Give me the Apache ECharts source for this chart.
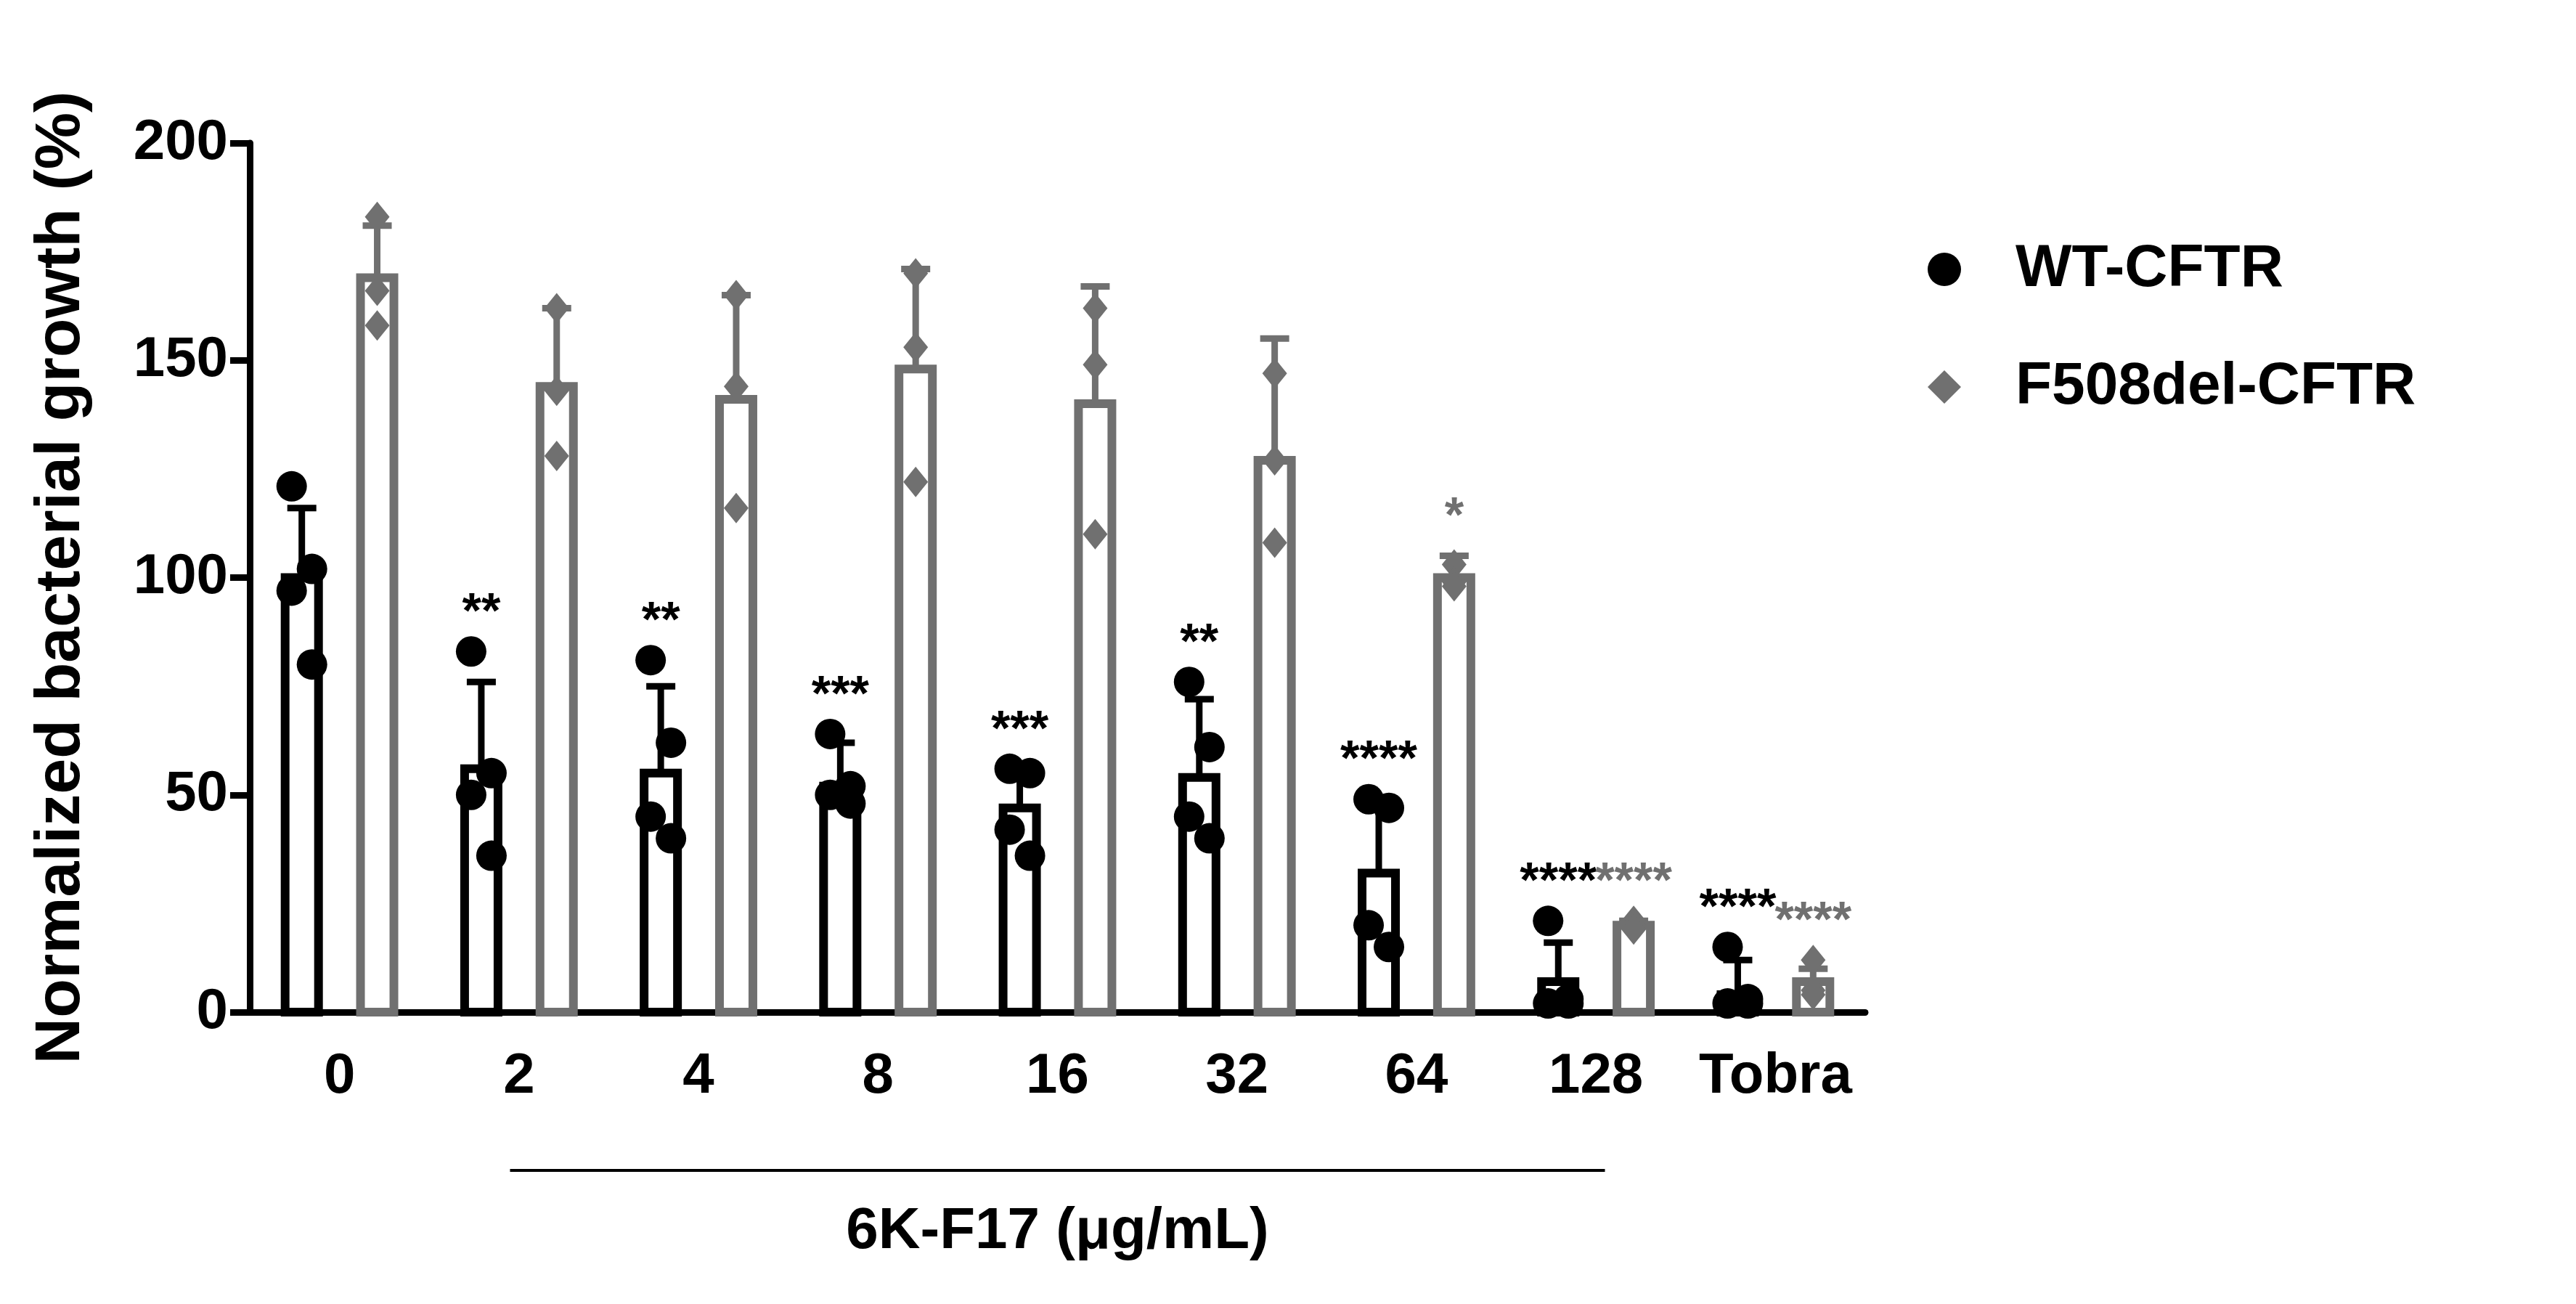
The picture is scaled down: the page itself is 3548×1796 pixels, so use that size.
<!DOCTYPE html>
<html>
<head>
<meta charset="utf-8">
<script src="https://cdn.jsdelivr.net/npm/echarts@6/dist/echarts.min.js"></script>
<style>html,body{margin:0;background:#fff}#chart{width:3548px;height:1796px}</style>
</head>
<body>
<div id="chart"></div>
<script>
var categories = ['0', '2', '4', '8', '16', '32', '64', '128', 'Tobra'];
var wtMean = [100, 56, 55, 52, 47, 54, 32, 7, 4];
var wtSD = [16, 20, 20, 10, 8, 18, 15, 9, 8];
var wtPoints = [[121, 102, 97, 80], [83, 55, 50, 36], [81, 62, 45, 40], [64, 52, 50, 48],
    [56, 55, 42, 36], [76, 61, 45, 40], [49, 47, 20, 15], [21, 3, 2, 2], [15, 3, 2, 2]];
var fMean = [169, 144, 141, 148, 140, 127, 100, 20, 7];
var fSD = [12, 18, 24, 23, 27, 28, 5, 1, 3];
var fPoints = [[183, 158, 166], [162, 143, 128], [165, 144, 116], [170, 153, 122],
    [162, 149, 110], [147, 108, 127], [103, 99, 98], [21, 20, 19], [12, 5, 4]];
var wtStars = ['', '**', '**', '***', '***', '**', '****', '****', '****'];
var fStars = ['', '', '', '', '', '', '*', '****', '****'];

var BLACK = '#000000';
var GRAY = '#707070';
var font = 'Liberation Sans, Arial, sans-serif';

function groupSeries(name, mean, sd, points, stars, color, side, symbol) {
    var data = mean.map(function (m, i) { return [i, m, sd[i], points[i], stars[i]]; });
    return {
        name: name,
        type: 'custom',
        clip: false,
        itemStyle: { color: color },
        data: data,
        renderItem: function (params, api) {
            var i = api.value(0);
            var d = data[i];
            var band = api.size([1, 0])[0];
            var cx = api.coord([i, 0])[0] + side * band * 0.21;
            var y0 = api.coord([i, 0])[1];
            var yM = api.coord([i, d[1]])[1];
            var yT = api.coord([i, d[1] + d[2]])[1];
            var w = 46;
            var kids = [
                { type: 'line', shape: { x1: cx, y1: yM, x2: cx, y2: yT }, style: { stroke: color, lineWidth: 9 } },
                { type: 'line', shape: { x1: cx - 20, y1: yT, x2: cx + 20, y2: yT }, style: { stroke: color, lineWidth: 9 } },
                { type: 'rect', shape: { x: cx - w / 2, y: yM, width: w, height: y0 - yM }, style: { fill: 'none', stroke: color, lineWidth: 12 } }
            ];
            var pts = d[3];
            var offs = pts.length === 4 ? [-14, 14, -14, 14] : [0, 0, 0];
            var topY = yT;
            pts.forEach(function (v, k) {
                var py = api.coord([i, v])[1];
                topY = Math.min(topY, py);
                if (symbol === 'circle') {
                    kids.push({ type: 'circle', shape: { cx: cx + offs[k], cy: py, r: 21 }, style: { fill: color } });
                } else {
                    kids.push({ type: 'polygon', shape: { points: [[cx + offs[k], py - 21], [cx + offs[k] + 17, py], [cx + offs[k], py + 21], [cx + offs[k] - 17, py]] }, style: { fill: color } });
                }
            });
            if (d[4]) {
                kids.push({ type: 'text', style: { text: d[4], x: cx, y: topY - 18, align: 'center', verticalAlign: 'bottom', fill: color, font: 'bold 68px ' + font } });
            }
            return { type: 'group', children: kids };
        }
    };
}

var bracket = {
    type: 'custom',
    clip: false,
    silent: true,
    data: [[1, 7]],
    renderItem: function (params, api) {
        var band = api.size([1, 0])[0];
        var a = api.coord([1, 0]);
        var b = api.coord([7, 0]);
        var y = a[1] + 218;
        return {
            type: 'group', children: [
                { type: 'line', shape: { x1: a[0] - band * 0.05, y1: y, x2: b[0] + band * 0.05, y2: y }, style: { stroke: BLACK, lineWidth: 4 } },
                { type: 'text', style: { text: '6K-F17 (μg/mL)', x: (a[0] + b[0]) / 2, y: y + 45, align: 'center', verticalAlign: 'top', fill: BLACK, font: 'bold 80px ' + font } }
            ]
        };
    }
};

var myChart = echarts.init(document.getElementById('chart'));
var option = {
    backgroundColor: '#fff',
    animation: false,
    legend: {
        orient: 'vertical',
        left: 2650,
        top: 325,
        itemGap: 80,
        itemWidth: 46,
        itemHeight: 46,
        textStyle: { fontSize: 82, fontWeight: 'bold', fontFamily: font, color: BLACK, padding: [0, 0, 0, 70] },
        data: [
            { name: 'WT-CFTR', icon: 'circle', itemStyle: { color: BLACK } },
            { name: 'F508del-CFTR', icon: 'diamond', itemStyle: { color: GRAY } }
        ]
    },
    grid: { left: 344, right: 979, top: 197, bottom: 402 },
    xAxis: {
        type: 'category',
        data: categories,
        axisLine: { lineStyle: { color: BLACK, width: 9 } },
        axisTick: { show: false },
        axisLabel: { interval: 0, fontSize: 78, fontWeight: 'bold', fontFamily: font, color: BLACK, margin: 50 }
    },
    yAxis: {
        type: 'value',
        min: 0,
        max: 200,
        interval: 50,
        name: 'Normalized bacterial growth (%)',
        nameLocation: 'middle',
        nameGap: 215,
        nameTextStyle: { fontSize: 88, fontWeight: 'bold', fontFamily: font, color: BLACK },
        axisLine: { show: true, lineStyle: { color: BLACK, width: 9 } },
        axisTick: { show: true, length: 27, lineStyle: { width: 9, color: BLACK } },
        splitLine: { show: false },
        axisLabel: { fontSize: 78, fontWeight: 'bold', fontFamily: font, color: BLACK, margin: 30 }
    },
    series: [
        groupSeries('WT-CFTR', wtMean, wtSD, wtPoints, wtStars, BLACK, -1, 'circle'),
        groupSeries('F508del-CFTR', fMean, fSD, fPoints, fStars, GRAY, 1, 'diamond'),
        bracket
    ]
};
myChart.setOption(option);
</script>
</body>
</html>
